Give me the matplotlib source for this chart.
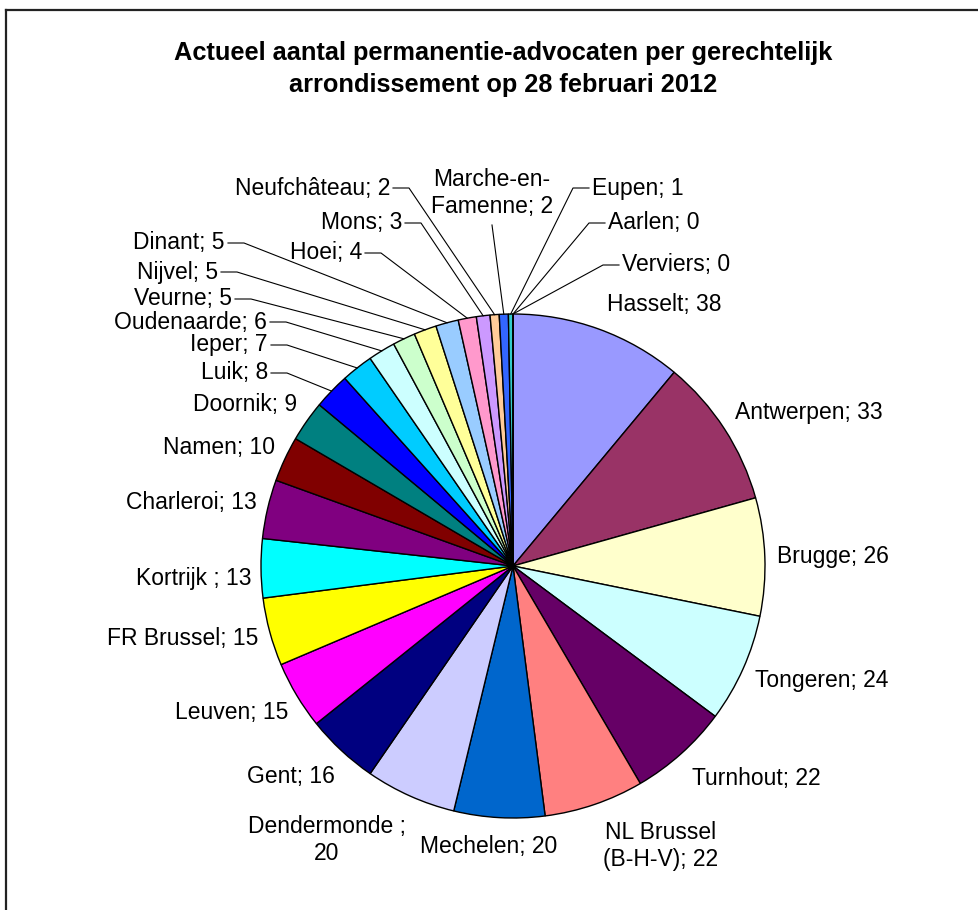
import numpy as np
import matplotlib
matplotlib.use("Agg")
import matplotlib.pyplot as plt

# DATA
districts = ["Hasselt", "Antwerpen", "Brugge", "Tongeren", "Turnhout",
             "NL Brussel (B-H-V)", "Mechelen", "Dendermonde ", "Gent", "Leuven",
             "FR Brussel", "Kortrijk ", "Charleroi", "Namen", "Doornik", "Luik",
             "Ieper", "Oudenaarde", "Veurne", "Nijvel", "Dinant", "Hoei", "Mons",
             "Neufchâteau", "Marche-en-Famenne", "Eupen", "Aarlen", "Verviers"]
lawyers = [38, 33, 26, 24, 22, 22, 20, 20, 16, 15, 15, 13, 13, 10, 9, 8,
           7, 6, 5, 5, 5, 4, 3, 2, 2, 1, 0, 0]

TITLE = "Actueel aantal permanentie-advocaten per gerechtelijk\narrondissement op 28 februari 2012"

# STYLE (excel 2003 palette)
colors = ["#9999FF", "#993366", "#FFFFCC", "#CCFFFF", "#660066", "#FF8080",
          "#0066CC", "#CCCCFF", "#000080", "#FF00FF", "#FFFF00", "#00FFFF",
          "#800080", "#800000", "#008080", "#0000FF", "#00CCFF", "#CCFFFF",
          "#CCFFCC", "#FFFF99", "#99CCFF", "#FF99CC", "#CC99FF", "#FFCC99",
          "#3366FF", "#33CCCC", "#99CC00", "#FFCC00"]

# LAYOUT (pixels, origin top-left)
W, H = 979, 910
CX, CY, R = 513, 566, 252
# label anchor x, y, alignment, leader ('h' elbow / 'v' vertical / None)
label_layout = [
    (607, 305, "left", None), (735, 413, "left", None), (777, 557, "left", None),
    (755, 680, "left", None), (692, 778, "left", None), (661, 846, "center", None),
    (489, 846, "center", None), (327, 840, "center", None), (335, 777, "right", None),
    (288, 713, "right", None), (258, 638, "right", None), (252, 578, "right", None),
    (257, 503, "right", None), (275, 448, "right", None), (297, 405, "right", None),
    (268, 373, "right", "h"), (268, 345, "right", "h"), (267, 322, "right", "h"),
    (232, 299, "right", "h"), (218, 272, "right", "h"), (225, 243, "right", "h"),
    (362, 253, "right", "h"), (402, 223, "right", "h"), (390, 188, "right", "h"),
    (492, 193, "center", "v"), (592, 188, "left", "h"), (608, 223, "left", "h"),
    (622, 265, "left", "h"),
]
WRAP = {"NL Brussel (B-H-V)": "NL Brussel\n(B-H-V)",
        "Marche-en-Famenne": "Marche-en-\nFamenne"}
BREAK_AFTER_SEMI = {"Dendermonde "}

plt.rcParams['font.family'] = ['Liberation Sans', 'DejaVu Sans']
FS = 16.5

fig = plt.figure(figsize=(W / 100, H / 100), dpi=100)
ax = fig.add_axes([0, 0, 1, 1])

wedges, _ = ax.pie(lawyers, colors=colors, startangle=90, counterclock=False,
                   center=(CX, H - CY), radius=R,
                   wedgeprops=dict(edgecolor="black", linewidth=1.0))
ax.set_xlim(0, W)
ax.set_ylim(0, H)
ax.set_aspect("equal")
ax.axis("off")

# LABELS
for w, name, val, (lx, ly, ha, leader) in zip(wedges, districts, lawyers, label_layout):
    text = WRAP.get(name, name)
    if name in BREAK_AFTER_SEMI:
        text = f"{text};\n{val}"
    else:
        text = f"{text}; {val}"
    y = H - ly
    ax.text(lx, y, text, ha=ha, va="center", fontsize=FS, linespacing=1.25)

    if leader is None:
        continue
    mid = np.deg2rad((w.theta1 + w.theta2) / 2)
    ex = CX + R * np.cos(mid)
    ey = (H - CY) + R * np.sin(mid)
    if leader == "v":
        ax.plot([lx, ex], [H - 225, ey], color="black", lw=0.8)
    else:
        sgn = 1 if ha == "right" else -1
        x0 = lx + sgn * 3
        x1 = x0 + sgn * 16
        ax.plot([x0, x1, ex], [y, y, ey], color="black", lw=0.8)

# TITLE
ax.text(503, H - 69, TITLE, ha="center", va="center", fontsize=18.3,
        fontweight="bold", linespacing=1.4)

# CHART BORDER (cropped, only top and left visible)
ax.plot([6.5, W], [H - 9.5, H - 9.5], color="#222222", lw=1.6, clip_on=False)
ax.plot([6.5, 6.5], [H - 9.5, 0], color="#222222", lw=1.6, clip_on=False)

fig.savefig("out.png", dpi=100)
